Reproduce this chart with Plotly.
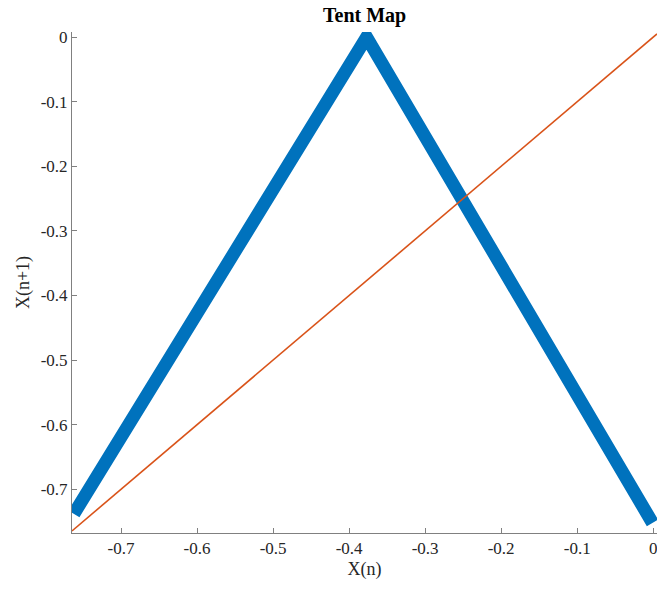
import plotly.graph_objects as go

# Tent map iterates: X(n) vs X(n+1), traced through the band's corners
tent_x = [-0.762, -0.377, -0.001]
tent_y = [-0.738, 0.0, -0.752]

# Identity line X(n+1) = X(n)
diag_x = [-0.7645, 0.005]
diag_y = [-0.7645, 0.005]

x_ticks = [-0.7, -0.6, -0.5, -0.4, -0.3, -0.2, -0.1, 0]
y_ticks = [0, -0.1, -0.2, -0.3, -0.4, -0.5, -0.6, -0.7]

fig = go.Figure()
fig.add_trace(go.Scatter(
    x=tent_x, y=tent_y, mode="lines",
    line=dict(color="#0072BD", width=13),
    hoverinfo="skip", showlegend=False,
))
fig.add_trace(go.Scatter(
    x=diag_x, y=diag_y, mode="lines",
    line=dict(color="#D95319", width=1.6),
    hoverinfo="skip", showlegend=False,
))

font_family = "Liberation Serif, Times New Roman, serif"
axis_common = dict(
    showgrid=False, zeroline=False, showline=True,
    linecolor="#808080", linewidth=1,
    ticks="inside", ticklen=5, tickcolor="#808080",
    tickfont=dict(family=font_family, size=17, color="#262626"),
    ticklabeloverflow="allow",
    mirror=False,
)

fig.update_layout(
    width=657, height=590,
    margin=dict(l=72, r=0, t=32, b=57),
    paper_bgcolor="white", plot_bgcolor="white",
    title=dict(text="<b>Tent Map</b>", x=0.555, xanchor="center",
               y=0.975, yanchor="middle",
               font=dict(family=font_family, size=20, color="black")),
    xaxis=dict(range=[-0.7645, 0.005], tickvals=x_ticks,
               ticktext=[f"{v:g}" for v in x_ticks],
               title=dict(text="X(n)", standoff=4,
                          font=dict(family=font_family, size=18, color="#262626")),
               **axis_common),
    yaxis=dict(range=[-0.7677, 0.008], tickvals=y_ticks,
               ticktext=[f"{v:g}" for v in y_ticks],
               title=dict(text="X(n+1)", standoff=6,
                          font=dict(family=font_family, size=18, color="#262626")),
               **axis_common),
)

fig.write_html("out.html")
